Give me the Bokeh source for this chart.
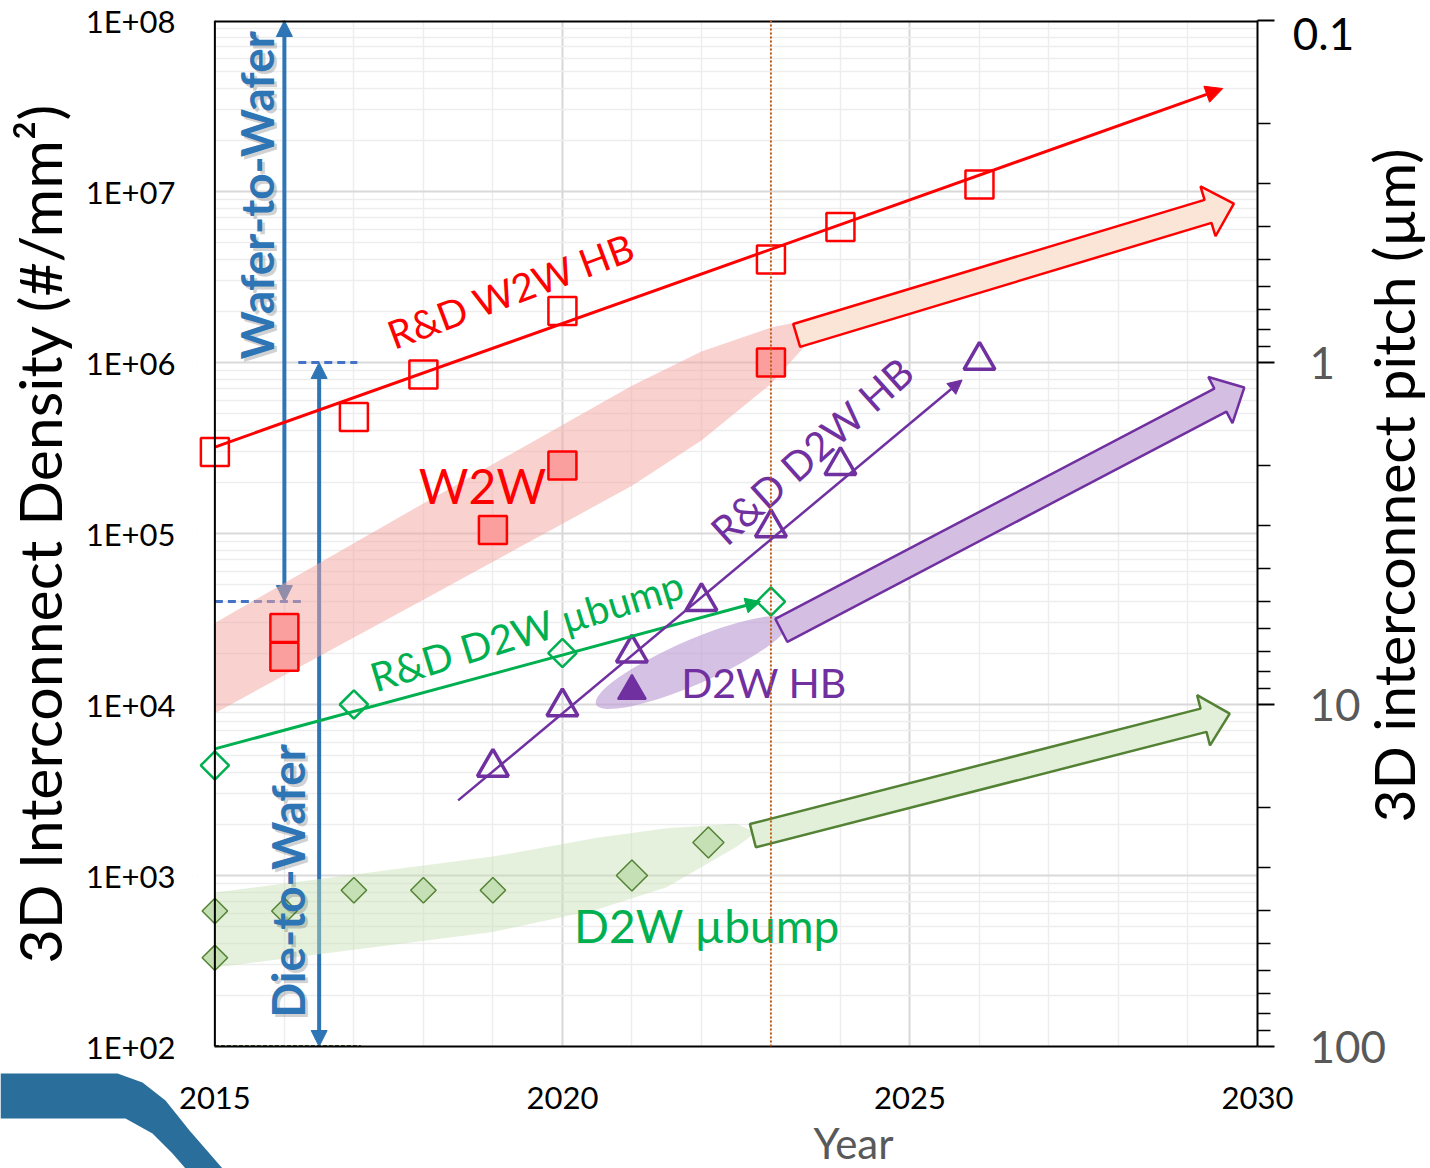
import math
from bokeh.plotting import figure
from bokeh.models import (Range1d, LogScale, LogAxis, FixedTicker, Arrow, NormalHead,
                          Span, BoxAnnotation, CustomJSTickFormatter)
from bokeh.core.properties import value
from bokeh.embed import file_html
from bokeh.resources import INLINE

# ---------------- data ----------------
year_ticks = [2015, 2020, 2025, 2030]
year_tick_labels = ["2015", "2020", "2025", "2030"]
density_ticks = [1e2, 1e3, 1e4, 1e5, 1e6, 1e7, 1e8]
density_tick_labels = ["1E+02", "1E+03", "1E+04", "1E+05", "1E+06", "1E+07", "1E+08"]
pitch_ticks = [0.1, 1, 10, 100]
pitch_tick_labels = ["0.1", "1", "10", "100"]

# R&D wafer-to-wafer hybrid bonding (open squares)
rd_w2w_years = [2015, 2017, 2018, 2020, 2023, 2024, 2026]
rd_w2w_density = [3.0e5, 4.8e5, 8.5e5, 2.0e6, 4.0e6, 6.2e6, 1.1e7]
rd_w2w_trend_years = [2015, 2029.5]
rd_w2w_trend_density = [3.2e5, 4.0e7]

# W2W production (filled squares)
w2w_years = [2016, 2016, 2019, 2020, 2023]
w2w_density = [2.8e4, 1.9e4, 1.05e5, 2.5e5, 1.0e6]
w2w_band_years = [2015, 2018, 2021, 2022, 2023, 2023.5, 2023.75]
w2w_band_low = [8.9e3, 4.1e4, 1.9e5, 3.5e5, 7.5e5, 1.26e6, 1.7e6]
w2w_band_high = [3.0e4, 1.5e5, 7.3e5, 1.16e6, 1.6e6, 1.76e6, 1.8e6]
w2w_proj_years = [2023.37, 2029.66]
w2w_proj_density = [1.44e6, 8.5e6]

# R&D die-to-wafer micro-bump (open diamonds)
rd_ubump_years = [2015, 2017, 2020, 2023]
rd_ubump_density = [4.4e3, 1.0e4, 2.0e4, 4.0e4]
rd_ubump_trend_years = [2015, 2022.85]
rd_ubump_trend_density = [5.5e3, 4.0e4]

# D2W micro-bump production (filled diamonds)
ubump_years = [2015, 2015, 2016, 2017, 2018, 2019]
ubump_density = [620, 330, 620, 820, 820, 820]
ubump_recent_years = [2021, 2022.1]
ubump_recent_density = [1.0e3, 1.56e3]
ubump_band_years = [2015, 2019, 2020.5, 2021.5, 2022.5, 2022.75]
ubump_band_low = [290, 467, 632, 855, 1470, 1740]
ubump_band_high = [796, 1290, 1660, 1890, 2010, 1810]
ubump_proj_years = [2022.74, 2029.6]
ubump_proj_density = [1.71e3, 8.85e3]

# R&D die-to-wafer hybrid bonding (open triangles)
rd_hb_years = [2019, 2020, 2021, 2022, 2023, 2024, 2026]
rd_hb_density = [4.3e3, 9.7e3, 2.0e4, 4.0e4, 1.08e5, 2.5e5, 1.03e6]
rd_hb_trend_years = [2018.5, 2025.75]
rd_hb_trend_density = [2.75e3, 7.9e5]

# D2W hybrid bonding production (filled triangle)
hb_years = [2021]
hb_density = [1.2e4]
hb_cloud_year = [2021.87]
hb_cloud_density = [1.76e4]
hb_proj_years = [2023.15, 2029.81]
hb_proj_density = [2.71e4, 7.14e5]

# Wafer-to-wafer / die-to-wafer ranges
w2w_range_year = 2016.0
w2w_range_density = [4.0e4, 1.0e8]
d2w_range_year = 2016.5
d2w_range_density = [1.0e2, 1.0e6]
today_year = 2023

# ---------------- styles ----------------
RED = "#FF0000"
PURPLE = "#7030A0"
GREEN = "#00B050"
DKGREEN = "#548235"
BLUE = "#2E75B6"
DASHBLUE = "#4472C4"
FONT = "Lato"

X0, X1 = 2015, 2030
XPAD = 0.25                      # room so that markers on the 2015 axis are not cut
Y0, Y1 = 1e2, 1e8
PXY = 1043 / (X1 - X0)
FRAME_W = round(PXY * (X1 - X0 + XPAD))
FRAME_H = 1026
PXD = FRAME_H / (math.log10(Y1) - math.log10(Y0))
BORDER_L, BORDER_T, BORDER_B, BORDER_R = 190, 20, 114, 140
FIG_H = BORDER_T + FRAME_H + BORDER_B
OVER_W, OVER_H = 1430, 1168

p = figure(frame_width=FRAME_W, frame_height=FRAME_H,
           x_range=Range1d(X0 - XPAD, X1), y_range=Range1d(Y0, Y1), y_axis_type="log",
           output_backend="svg", toolbar_location=None,
           min_border_left=BORDER_L, min_border_top=BORDER_T,
           min_border_right=BORDER_R, min_border_bottom=BORDER_B,
           background_fill_color="white", border_fill_color="white")
p.outline_line_color = None

# x axis
xa = p.xaxis[0]
xa.bounds = (X0, X1)
xa.ticker = FixedTicker(ticks=year_ticks, minor_ticks=list(range(2015, 2031)))
xa.formatter = CustomJSTickFormatter(args=dict(t=year_ticks, l=year_tick_labels), code="""
const i = t.findIndex(v => Math.abs(v - tick) < 1e-6); return i >= 0 ? l[i] : '';""")
xa.major_tick_line_color = None
xa.minor_tick_line_color = None
xa.major_tick_out = 0
xa.major_label_standoff = 36
xa.major_label_text_font = FONT
xa.major_label_text_font_size = "31px"
xa.major_label_text_color = "black"
xa.axis_line_color = "black"
xa.axis_line_width = 2

# left y axis (its line is drawn at 2015 below)
ya = p.yaxis[0]
ya.ticker = FixedTicker(ticks=density_ticks,
                        minor_ticks=[k * 10 ** e for e in range(2, 8) for k in range(2, 10)])
ya.formatter = CustomJSTickFormatter(args=dict(t=density_ticks, l=density_tick_labels), code="""
const i = t.findIndex(v => Math.abs(Math.log10(v) - Math.log10(tick)) < 1e-6); return i >= 0 ? l[i] : '';""")
ya.major_tick_line_color = None
ya.minor_tick_line_color = None
ya.major_tick_out = 0
ya.major_label_standoff = round(35 - XPAD * PXY)
ya.major_label_text_font = FONT
ya.major_label_text_font_size = "31px"
ya.major_label_text_color = "black"
ya.axis_line_color = None
ya.axis_label = "3D Interconnect Density (#/mm²)"
ya.axis_label_text_font = FONT
ya.axis_label_text_font_size = "59px"
ya.axis_label_text_font_style = "normal"
ya.axis_label_text_color = "black"
ya.axis_label_standoff = 8

# right y axis (pitch)
p.extra_y_ranges = {"pitch": Range1d(start=100, end=0.1)}
p.extra_y_scales = {"pitch": LogScale()}
ra = LogAxis(y_range_name="pitch")
ra.ticker = FixedTicker(ticks=pitch_ticks,
                        minor_ticks=[k * 10 ** e for e in range(-1, 2) for k in range(2, 10)])
ra.formatter = CustomJSTickFormatter(
    args=dict(t=pitch_ticks, l=[lab if t >= 1 else "" for t, lab in zip(pitch_ticks, pitch_tick_labels)]),
    code="""
const i = t.findIndex(v => Math.abs(Math.log10(v) - Math.log10(tick)) < 1e-6); return i >= 0 ? l[i] : '';""")
ra.major_tick_in = 0
ra.major_tick_out = 17
ra.minor_tick_in = 0
ra.minor_tick_out = 13
ra.major_tick_line_width = 2
ra.minor_tick_line_width = 1.5
ra.major_tick_line_color = "black"
ra.minor_tick_line_color = "black"
ra.major_label_standoff = 35
ra.major_label_text_font = FONT
ra.major_label_text_font_size = "44px"
ra.major_label_text_color = "#595959"
ra.axis_line_color = "black"
ra.axis_line_width = 2
p.add_layout(ra, "right")

# grids
p.xgrid.grid_line_color = "#D9D9D9"
p.xgrid.grid_line_width = 2
p.xgrid.minor_grid_line_color = "#EDEDED"
p.xgrid.minor_grid_line_width = 1.5
p.ygrid.grid_line_color = "#D9D9D9"
p.ygrid.grid_line_width = 2
p.ygrid.minor_grid_line_color = "#EDEDED"
p.ygrid.minor_grid_line_width = 1.5
# hide grid stubs left of the 2015 axis
p.add_layout(BoxAnnotation(right=X0, fill_color="white", fill_alpha=1, line_color=None,
                           level="underlay"))


def to_px(year, dens):
    return year * PXY, math.log10(dens) * PXD


def from_px(X, Y):
    return X / PXY, 10 ** (Y / PXD)


def block_arrow(years, dens, shaft=25, head_w=52, head_len=27):
    xa_, ya_ = to_px(years[0], dens[0])
    xb, yb = to_px(years[1], dens[1])
    dx, dy = xb - xa_, yb - ya_
    L = math.hypot(dx, dy)
    ux, uy = dx / L, dy / L
    nx, ny = -uy, ux
    bx, by = xb - ux * head_len, yb - uy * head_len
    pts = [(xa_ + nx * shaft / 2, ya_ + ny * shaft / 2),
           (bx + nx * shaft / 2, by + ny * shaft / 2),
           (bx + nx * head_w / 2, by + ny * head_w / 2),
           (xb, yb),
           (bx - nx * head_w / 2, by - ny * head_w / 2),
           (bx - nx * shaft / 2, by - ny * shaft / 2),
           (xa_ - nx * shaft / 2, ya_ - ny * shaft / 2)]
    conv = [from_px(X, Y) for X, Y in pts]
    return [c[0] for c in conv], [c[1] for c in conv]


# blue range arrows (under the bands)
for yr, dd in [(w2w_range_year, w2w_range_density), (d2w_range_year, d2w_range_density)]:
    p.add_layout(Arrow(x_start=yr, y_start=dd[0], x_end=yr, y_end=dd[1],
                       start=NormalHead(size=16, fill_color=BLUE, line_color=BLUE),
                       end=NormalHead(size=16, fill_color=BLUE, line_color=BLUE),
                       line_color=BLUE, line_width=4, level="underlay"))

# dashed limit lines
p.line([2015, 2016.3], [w2w_range_density[0]] * 2, line_color=DASHBLUE, line_width=3, line_dash="8 5")
p.line([2016.2, 2017.05], [d2w_range_density[1]] * 2, line_color=DASHBLUE, line_width=3, line_dash="8 5")
p.line([2015, 2017.1], [d2w_range_density[0]] * 2, line_color="#375623", line_width=3, line_dash="4 2")

# bands
p.patch(w2w_band_years + w2w_band_years[::-1], w2w_band_low + w2w_band_high[::-1],
        fill_color="#F4A6A0", fill_alpha=0.5, line_color=None)
p.patch(ubump_band_years + ubump_band_years[::-1], ubump_band_low + ubump_band_high[::-1],
        fill_color="#C5E0B4", fill_alpha=0.45, line_color=None)
p.ellipse(x=hb_cloud_year, y=hb_cloud_density, width=210, height=44,
          width_units="screen", height_units="screen", angle=math.radians(23.5),
          fill_color="#B99BD3", fill_alpha=0.62, line_color=None)

# block (projection) arrows
bx_, by_ = block_arrow(w2w_proj_years, w2w_proj_density, shaft=24)
p.patch(bx_, by_, fill_color="#FBE5D6", line_color=RED, line_width=2.5)
bx_, by_ = block_arrow(hb_proj_years, hb_proj_density, shaft=26)
p.patch(bx_, by_, fill_color="#D4BFE2", line_color=PURPLE, line_width=2.5)
bx_, by_ = block_arrow(ubump_proj_years, ubump_proj_density, shaft=24)
p.patch(bx_, by_, fill_color="#E2F0D9", line_color=DKGREEN, line_width=2.5)

# today line
p.add_layout(Span(location=today_year, dimension="height", line_color="#C55A11",
                  line_width=2, line_dash="2 2"))

# filled production markers
p.scatter(ubump_years, ubump_density, marker="square", angle=math.pi / 4, size=18,
          fill_color="#C5E0B4", line_color=DKGREEN, line_width=1.5)
p.scatter(ubump_recent_years, ubump_recent_density, marker="square", angle=math.pi / 4, size=22,
          fill_color="#C5E0B4", line_color=DKGREEN, line_width=1.5)

# blue rotated texts with shadow
for txt, yr, dd in [("Wafer-to-Wafer", 2015.6, 9.5e6), ("Die-to-Wafer", 2016.04, 9.3e2)]:
    p.text([yr], [dd], text=[txt], angle=math.pi / 2, x_offset=3, y_offset=3,
           text_font=value(FONT), text_font_size="46px", text_font_style="bold",
           text_color="#303030", text_alpha=0.22, text_align="center", text_baseline="middle")
    p.text([yr], [dd], text=[txt], angle=math.pi / 2,
           text_font=value(FONT), text_font_size="46px", text_font_style="bold",
           text_color=BLUE, text_align="center", text_baseline="middle")

p.scatter(w2w_years, w2w_density, marker="square", size=28,
          fill_color="#FA9E9E", line_color=RED, line_width=2.5)
p.scatter(hb_years, hb_density, marker="triangle", size=28,
          fill_color=PURPLE, line_color=PURPLE, line_width=2)

# R&D trend arrows
for yrs, dd, col, lw, hs in [(rd_w2w_trend_years, rd_w2w_trend_density, RED, 3, 17),
                             (rd_ubump_trend_years, rd_ubump_trend_density, GREEN, 3, 15),
                             (rd_hb_trend_years, rd_hb_trend_density, PURPLE, 2.5, 14)]:
    p.add_layout(Arrow(x_start=yrs[0], y_start=dd[0], x_end=yrs[1], y_end=dd[1],
                       end=NormalHead(size=hs, fill_color=col, line_color=col),
                       line_color=col, line_width=lw))

# R&D markers
p.scatter(rd_w2w_years, rd_w2w_density, marker="square", size=28,
          fill_alpha=0, line_color=RED, line_width=2.5)
p.scatter(rd_ubump_years, rd_ubump_density, marker="square", angle=math.pi / 4, size=20,
          fill_alpha=0, line_color=GREEN, line_width=2.5)
p.scatter(rd_hb_years, rd_hb_density, marker="triangle", size=31,
          fill_alpha=0, line_color=PURPLE, line_width=3.5)

# annotation texts
p.text([2019.26], [2.64e6], text=["R&D W2W HB"], angle=math.radians(20.5),
       text_font=value(FONT), text_font_size="39px", text_color=RED,
       text_align="center", text_baseline="middle")
p.text([2018.85], [1.92e5], text=["W2W"], text_font=value(FONT), text_font_size="48px",
       text_color=RED, text_align="center", text_baseline="middle")
p.text([2019.49], [2.71e4], text=["R&D D2W µbump"], angle=math.radians(17),
       text_font=value(FONT), text_font_size="40px", text_color=GREEN,
       text_align="center", text_baseline="middle")
p.text([2022.9], [1.34e4], text=["D2W HB"], text_font=value(FONT), text_font_size="41px",
       text_color=PURPLE, text_align="center", text_baseline="middle")
p.text([2023.59], [3.05e5], text=["R&D D2W HB"], angle=math.radians(42),
       text_font=value(FONT), text_font_size="40px", text_color=PURPLE,
       text_align="center", text_baseline="middle")
p.text([2022.08], [5.1e2], text=["D2W µbump"], text_font=value(FONT), text_font_size="46px",
       text_color=GREEN, text_align="center", text_baseline="middle")

# axis frame lines
p.add_layout(Span(location=X0, dimension="height", line_color="black", line_width=2))
p.line([X0, X1], [Y1, Y1], line_color="black", line_width=4)

# ---------- transparent overlay (pixel space) for texts outside the plot frame ----------
o = figure(width=OVER_W, height=OVER_H, x_range=Range1d(0, OVER_W), y_range=Range1d(OVER_H, 0),
           x_axis_location=None, y_axis_location=None, toolbar_location=None,
           output_backend="svg", min_border=0,
           background_fill_color=None, border_fill_color=None)
o.outline_line_color = None
o.grid.visible = False
o.margin = (-FIG_H, 0, 0, 0)
# imec logo swoosh
o.patch([0, 117, 142, 165, 189, 209, 222, 185, 172, 152, 125, 0],
        [1073, 1073, 1082, 1100, 1130, 1153, 1168, 1168, 1153, 1133, 1118, 1118],
        fill_color="#2A6E9C", line_color=None)
o.text([1392], [485], text=["3D interconnect pitch (µm)"], angle=math.pi / 2,
       text_font=value(FONT), text_font_size="57px", text_color="black",
       text_align="center", text_baseline="middle")
o.text([1323], [33], text=[pitch_tick_labels[0]], text_font=value(FONT), text_font_size="44px",
       text_color="black", text_align="center", text_baseline="middle")
o.text([853], [1142], text=["Year"], text_font=value(FONT), text_font_size="42px",
       text_color="#595959", text_align="center", text_baseline="middle")

open("out.html", "w").write(file_html([p, o], INLINE))
